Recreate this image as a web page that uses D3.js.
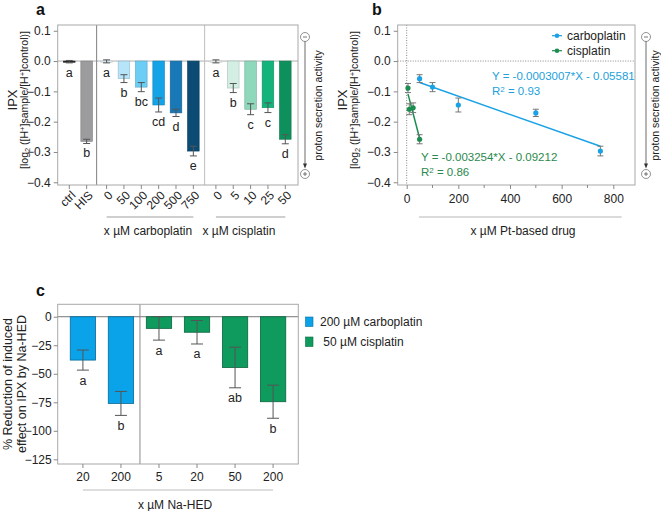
<!DOCTYPE html>
<html><head><meta charset="utf-8">
<script src="https://cdn.jsdelivr.net/npm/d3@7"></script>
<style>
html,body{margin:0;padding:0;background:#fff;}
svg{display:block;font-family:"Liberation Sans",Arial,sans-serif;}
</style></head>
<body>
<svg id="c" width="661" height="511"></svg>
<script>
// ---------- DATA ----------
// Panel a
const aLabels = ["ctrl","HIS","0","50","100","200","500","750","0","5","10","25","50"];
const aGroups = [0,0,1,1,1,1,1,1,2,2,2,2,2];
const aValues = [-0.002,-0.265,-0.001,-0.058,-0.086,-0.145,-0.171,-0.297,-0.001,-0.089,-0.159,-0.154,-0.258];
const aErrors = [0.004,0.007,0.005,0.013,0.015,0.023,0.012,0.016,0.005,0.015,0.018,0.016,0.015];
const aLetters = ["a","b","a","b","bc","cd","d","e","a","b","c","c","d"];
const aColors = ["#222222","#9c9c9f","#e6f6fd","#b6e4f8","#6ccdf5","#14a3e6","#1978b6","#0b4b74","#eef9f4","#d3efe3","#8fd8bb","#13b37c","#0e905c"];
const aGroupTitles = ["x µM carboplatin","x µM cisplatin"];
const aYTicks = [0.1,0.0,-0.1,-0.2,-0.3,-0.4];

// Panel b
const carboDose = [50,100,200,500,750];
const carboIPX = [-0.058,-0.086,-0.145,-0.171,-0.297];
const carboErr = [0.013,0.015,0.023,0.012,0.016];
const cisDose = [5,10,25,50];
const cisIPX = [-0.089,-0.159,-0.154,-0.258];
const cisErr = [0.015,0.018,0.016,0.015];
const carboFit = {slope:-0.0003007, intercept:-0.05581, r2:"0.93", eq:"Y = -0.0003007*X - 0.05581"};
const cisFit = {slope:-0.003254, intercept:-0.09212, r2:"0.86", eq:"Y = -0.003254*X - 0.09212"};
const bXTicks = [0,200,400,600,800];
const bXMinor = [100,300,500,700];
const seriesNames = ["carboplatin","cisplatin"];

// Panel c
const cLabels = ["20","200","5","20","50","200"];
const cSeries = [0,0,1,1,1,1];
const cValues = [-38.0,-76.0,-10.2,-13.6,-44.5,-74.5];
const cErrors = [8.8,10.5,10.3,10.3,17.8,14.5];
const cLetters = ["a","b","a","a","ab","b"];
const cLegend = ["200 µM carboplatin"," 50 µM cisplatin"];
const cYTicks = [0,-25,-50,-75,-100,-125];

// ---------- STYLE ----------
const BLUE = "#1aa2e6", GREEN = "#1c8c50";
const C_CARBO = "#0aa2e8", C_CIS = "#0f9a5e";
const TXT = "#222";

const svg = d3.select("#c");

function box(g, x0, y0, x1, y1){
  g.append("rect").attr("x",x0).attr("y",y0).attr("width",x1-x0).attr("height",y1-y0)
   .attr("fill","none").attr("stroke","#a8a8a8").attr("stroke-width",1);
}
function styleAxis(sel){
  sel.select(".domain").remove();
  sel.selectAll(".tick line").attr("stroke","#888");
  sel.selectAll(".tick text").attr("fill",TXT).style("font-size","12px")
     .style("font-family",'"Liberation Sans",Arial,sans-serif');
}
function indicator(g, cx, tx){
  const top=37, bot=174, r=4.5;
  g.append("circle").attr("cx",cx).attr("cy",top).attr("r",r).attr("fill","#fff").attr("stroke","#777").attr("stroke-width",0.8);
  g.append("line").attr("x1",cx-2).attr("x2",cx+2).attr("y1",top).attr("y2",top).attr("stroke","#555").attr("stroke-width",0.8);
  g.append("circle").attr("cx",cx).attr("cy",bot).attr("r",r).attr("fill","#fff").attr("stroke","#777").attr("stroke-width",0.8);
  g.append("line").attr("x1",cx-2).attr("x2",cx+2).attr("y1",bot).attr("y2",bot).attr("stroke","#555").attr("stroke-width",0.8);
  g.append("line").attr("x1",cx).attr("x2",cx).attr("y1",bot-2).attr("y2",bot+2).attr("stroke","#555").attr("stroke-width",0.8);
  g.append("line").attr("x1",cx).attr("x2",cx).attr("y1",top+r).attr("y2",bot-r-5).attr("stroke","#444").attr("stroke-width",0.8);
  g.append("path").attr("d",`M${cx-2},${bot-r-6} L${cx+2},${bot-r-6} L${cx},${bot-r-1} Z`).attr("fill","#333");
  g.append("text").attr("transform",`translate(${tx},${(top+bot)/2}) rotate(-90)`)
   .attr("text-anchor","middle").attr("dy","0.35em").style("font-size","10.5px").attr("fill",TXT)
   .text("proton secretion activity");
}
function ipxTitle(g, x1, x2, cy){
  g.append("text").attr("transform",`translate(${x1},${cy}) rotate(-90)`).attr("text-anchor","middle")
   .style("font-size","13px").attr("fill",TXT).text("IPX");
  const t = g.append("text").attr("transform",`translate(${x2},${cy}) rotate(-90)`).attr("text-anchor","middle")
   .style("font-size","10.5px").attr("fill",TXT);
  t.append("tspan").text("[log");
  t.append("tspan").attr("baseline-shift","-25%").style("font-size","7.5px").text("2");
  t.append("tspan").text(" ([H");
  t.append("tspan").attr("baseline-shift","40%").style("font-size","7.5px").text("+");
  t.append("tspan").text("]sample/[H");
  t.append("tspan").attr("baseline-shift","40%").style("font-size","7.5px").text("+");
  t.append("tspan").text("]control)]");
}
function errBar(g, x, yHi, yLo, cap, color){
  g.append("line").attr("x1",x).attr("x2",x).attr("y1",yHi).attr("y2",yLo).attr("stroke",color).attr("stroke-width",1);
  g.append("line").attr("x1",x-cap).attr("x2",x+cap).attr("y1",yHi).attr("y2",yHi).attr("stroke",color).attr("stroke-width",1);
  g.append("line").attr("x1",x-cap).attr("x2",x+cap).attr("y1",yLo).attr("y2",yLo).attr("stroke",color).attr("stroke-width",1);
}

// ---------- PANEL A ----------
(function(){
  const g = svg.append("g");
  const L=57.7, R=298, T=25, B=185;
  const gapOffsets=[0,0.15,0.45];
  const slot = aLabels.map((d,i)=> i + gapOffsets[aGroups[i]]);
  const x = d3.scaleLinear().domain([0, d3.max(slot)]).range([69.3, 285.3]);
  const y = d3.scaleLinear().domain([-0.409, 0.119]).range([B, T]);
  const bw = 11.6;

  g.append("text").attr("x",36).attr("y",15).style("font-size","16px").style("font-weight","bold").attr("fill","#111").text("a");

  g.append("line").attr("x1",L).attr("x2",R).attr("y1",y(0)).attr("y2",y(0)).attr("stroke","#b0b0b0").attr("stroke-width",1);
  const sep1 = (x(slot[1])+x(slot[2]))/2, sep2=(x(slot[7])+x(slot[8]))/2;
  g.append("line").attr("x1",sep1).attr("x2",sep1).attr("y1",T).attr("y2",B).attr("stroke","#808080");
  g.append("line").attr("x1",sep2).attr("x2",sep2).attr("y1",T).attr("y2",B).attr("stroke","#bdbdbd");

  aValues.forEach((v,i)=>{
    const cx = x(slot[i]);
    g.append("rect").attr("x",cx-bw/2).attr("width",bw).attr("y",y(0)).attr("height",Math.max(1.2,y(v)-y(0)))
     .attr("fill",aColors[i]).attr("stroke", i===0?"#222":d3.color(aColors[i]).darker(0.6)).attr("stroke-width",0.6);
    errBar(g, cx, y(v+aErrors[i]), y(v-aErrors[i]), 3.5, "#555");
    g.append("text").attr("x",cx).attr("y",y(v-aErrors[i])+14).attr("text-anchor","middle")
     .style("font-size","12.5px").attr("fill",TXT).text(aLetters[i]);
  });
  box(g, L, T, R, B);

  const ya = g.append("g").attr("transform",`translate(${L},0)`)
    .call(d3.axisLeft(y).tickValues(aYTicks).tickFormat(d3.format(".1f")).tickSize(4).tickPadding(3));
  styleAxis(ya);
  aLabels.forEach((lab,i)=>{
    const cx=x(slot[i]);
    g.append("line").attr("x1",cx).attr("x2",cx).attr("y1",B).attr("y2",B+4).attr("stroke","#888");
    g.append("text").attr("transform",`translate(${cx+4},${B+8}) rotate(-45)`).attr("text-anchor","end")
     .attr("dy","0.35em").style("font-size","12px").attr("fill",TXT).text(lab);
  });
  const grp=[[2,7],[8,12]];
  grp.forEach((p,k)=>{
    g.append("line").attr("x1",x(slot[p[0]])).attr("x2",x(slot[p[1]])).attr("y1",217).attr("y2",217).attr("stroke","#cfcfcf").attr("stroke-width",2);
  });
  g.append("text").attr("x",148).attr("y",234.5).attr("text-anchor","middle").style("font-size","12px").attr("fill",TXT).text(aGroupTitles[0]);
  g.append("text").attr("x",239).attr("y",234.5).attr("text-anchor","middle").style("font-size","12px").attr("fill",TXT).text(aGroupTitles[1]);

  ipxTitle(g, 17, 28, 100);
  indicator(g, 305, 318);
})();

// ---------- PANEL B ----------
(function(){
  const g = svg.append("g");
  const L=397.7, R=635, T=25, B=185;
  const x = d3.scaleLinear().domain([-34.8, 884]).range([L, R]);
  const y = d3.scaleLinear().domain([-0.409, 0.119]).range([B, T]);

  g.append("text").attr("x",372).attr("y",15).style("font-size","16px").style("font-weight","bold").attr("fill","#111").text("b");

  g.append("line").attr("x1",L).attr("x2",R).attr("y1",y(0)).attr("y2",y(0)).attr("stroke","#888").attr("stroke-dasharray","1,1.5");
  g.append("line").attr("x1",x(0)).attr("x2",x(0)).attr("y1",T).attr("y2",B).attr("stroke","#888").attr("stroke-dasharray","1,1.5");

  const fits=[[carboFit,carboDose,BLUE],[cisFit,cisDose,GREEN]];
  fits.forEach(([f,dose,col])=>{
    const x0=d3.min(dose), x1=d3.max(dose);
    g.append("line").attr("x1",x(x0)).attr("x2",x(x1))
     .attr("y1",y(f.slope*x0+f.intercept)).attr("y2",y(f.slope*x1+f.intercept))
     .attr("stroke",col).attr("stroke-width",1.5);
  });
  const series=[[carboDose,carboIPX,carboErr,BLUE],[cisDose,cisIPX,cisErr,GREEN]];
  series.forEach(([dx,dy,de,col])=>{
    dx.forEach((d,i)=>{
      errBar(g, x(d), y(dy[i]+de[i]), y(dy[i]-de[i]), 3, "#777");
      g.append("circle").attr("cx",x(d)).attr("cy",y(dy[i])).attr("r",2.6).attr("fill",col);
    });
  });
  box(g, L, T, R, B);

  const ya = g.append("g").attr("transform",`translate(${L},0)`)
    .call(d3.axisLeft(y).tickValues(aYTicks).tickFormat(d3.format(".1f")).tickSize(4).tickPadding(3));
  styleAxis(ya);
  const xa = g.append("g").attr("transform",`translate(0,${B})`)
    .call(d3.axisBottom(x).tickValues(bXTicks).tickSize(4).tickPadding(5));
  styleAxis(xa);
  bXMinor.forEach(v=>{
    g.append("line").attr("x1",x(v)).attr("x2",x(v)).attr("y1",B).attr("y2",B+3).attr("stroke","#888");
  });

  const eq = (tx,ty,f,col)=>{
    g.append("text").attr("x",tx).attr("y",ty).style("font-size","11.5px").attr("fill",col).text(f.eq);
    const t=g.append("text").attr("x",tx).attr("y",ty+15.5).style("font-size","11.5px").attr("fill",col);
    t.append("tspan").text("R");
    t.append("tspan").attr("baseline-shift","40%").style("font-size","8px").text("2");
    t.append("tspan").text(" = "+f.r2);
  };
  eq(492,79.5,carboFit,"#239fdc");
  eq(421,160.5,cisFit,"#2a8a4e");

  [[BLUE,35.7],[GREEN,50.7]].forEach(([col,ly],k)=>{
    g.append("line").attr("x1",552).attr("x2",562).attr("y1",ly).attr("y2",ly).attr("stroke",col).attr("stroke-width",1.2);
    g.append("circle").attr("cx",557).attr("cy",ly).attr("r",2.3).attr("fill",col);
    g.append("text").attr("x",567).attr("y",ly).attr("dy","0.35em").style("font-size","12px").attr("fill",TXT).text(seriesNames[k]);
  });

  g.append("line").attr("x1",419).attr("x2",621.7).attr("y1",217).attr("y2",217).attr("stroke","#cfcfcf").attr("stroke-width",1.5);
  g.append("text").attr("x",523).attr("y",234.5).attr("text-anchor","middle").style("font-size","12px").attr("fill",TXT).text("x µM Pt-based drug");

  ipxTitle(g, 347, 358, 100);
  indicator(g, 646, 655);
})();

// ---------- PANEL C ----------
(function(){
  const g = svg.append("g");
  const L=57.7, R=298.3, T=304.3, B=464;
  const x = d3.scaleBand().domain(d3.range(cLabels.length)).range([L,R]).paddingInner(0.334).paddingOuter(0.33);
  const y = d3.scaleLinear().domain([-129.1, 10.9]).range([B, T]);
  const colors=[C_CARBO,C_CIS];

  g.append("text").attr("x",36).attr("y",295.5).style("font-size","16px").style("font-weight","bold").attr("fill","#111").text("c");

  g.append("line").attr("x1",L).attr("x2",R).attr("y1",y(0)).attr("y2",y(0)).attr("stroke","#777").attr("stroke-width",1);
  const sep = (x(1)+x.bandwidth()+x(2))/2;
  g.append("line").attr("x1",sep).attr("x2",sep).attr("y1",T).attr("y2",B).attr("stroke","#8a8a8a");

  cValues.forEach((v,i)=>{
    const col=colors[cSeries[i]];
    g.append("rect").attr("x",x(i)).attr("width",x.bandwidth()).attr("y",y(0)).attr("height",y(v)-y(0))
     .attr("fill",col).attr("stroke",d3.color(col).darker(1.2)).attr("stroke-width",0.8);
    const cx=x(i)+x.bandwidth()/2;
    errBar(g, cx, y(v+cErrors[i]), y(v-cErrors[i]), 6, "#555");
    g.append("text").attr("x",cx).attr("y",y(v-cErrors[i])+14.5).attr("text-anchor","middle")
     .style("font-size","12.5px").attr("fill",TXT).text(cLetters[i]);
  });
  box(g, L, T, R, B);

  const ya = g.append("g").attr("transform",`translate(${L},0)`)
    .call(d3.axisLeft(y).tickValues(cYTicks).tickSize(4).tickPadding(2));
  styleAxis(ya);
  const xa = g.append("g").attr("transform",`translate(0,${B})`)
    .call(d3.axisBottom(x).tickFormat(i=>cLabels[i]).tickSize(4).tickPadding(4));
  styleAxis(xa);

  g.append("line").attr("x1",x(0)+x.bandwidth()/2).attr("x2",x(5)+x.bandwidth()/2).attr("y1",490).attr("y2",490).attr("stroke","#bdbdbd").attr("stroke-width",1.2);
  g.append("text").attr("x",175).attr("y",509).attr("text-anchor","middle").style("font-size","12px").attr("fill",TXT).text("x µM Na-HED");

  g.append("text").attr("transform",`translate(7.5,384) rotate(-90)`).attr("text-anchor","middle").attr("dy","0.35em")
   .style("font-size","12.5px").attr("fill",TXT).text("% Reduction of induced");
  g.append("text").attr("transform",`translate(21.5,384) rotate(-90)`).attr("text-anchor","middle").attr("dy","0.35em")
   .style("font-size","12.5px").attr("fill",TXT).text("effect on IPX by Na-HED");

  [[C_CARBO,317,320,326],[C_CIS,337,320,346]].forEach(([col,sy,tx,ty],k)=>{
    g.append("rect").attr("x",305.5).attr("y",sy).attr("width",7.5).attr("height",9.5).attr("fill",col).attr("stroke",d3.color(col).darker(1)).attr("stroke-width",0.6);
    g.append("text").attr("x",tx).attr("y",ty).style("font-size","12px").attr("fill",TXT).attr("xml:space","preserve").style("white-space","pre").text(cLegend[k]);
  });
})();
</script>
</body></html>
